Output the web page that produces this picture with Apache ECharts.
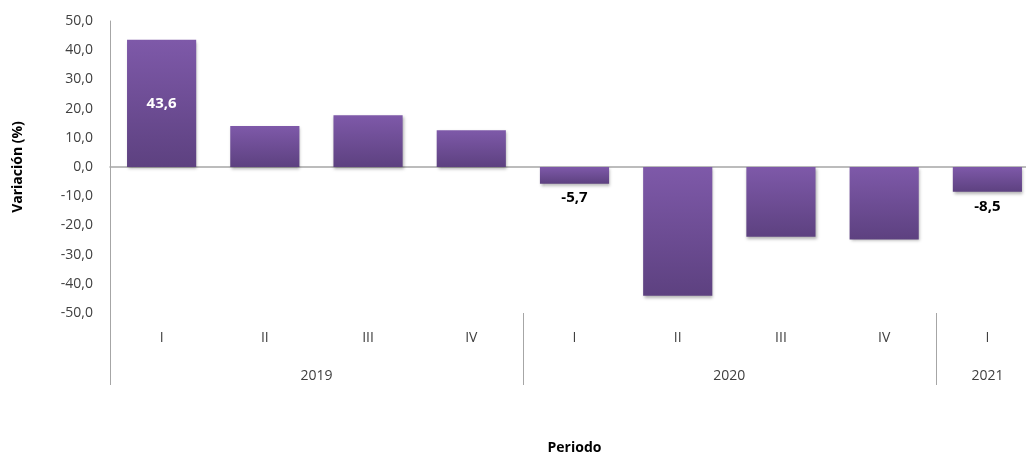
<!DOCTYPE html>
<html>
<head>
<meta charset="utf-8">
<script src="https://cdn.jsdelivr.net/npm/echarts@6/dist/echarts.min.js"></script>
<style>html,body{margin:0;padding:0;background:#fff}#c{width:1026px;height:454px}</style>
</head>
<body>
<div id="c"></div>
<script>
const quarters = ['I','II','III','IV','I','II','III','IV','I'];
const years = ['2019','2020','2021'];
const yearSpans = [4,4,1];
const values = [43.6, 14.0, 17.7, 12.6, -5.7, -44.1, -23.9, -24.8, -8.5];
const labeledIdx = [0, 4, 8];
const yTicks = [-50,-40,-30,-20,-10,0,10,20,30,40,50];

const fmt = v => v.toFixed(1).replace('.', ',');
const FONT = '"Open Sans", "Noto Sans", sans-serif';

// year group centers and boundaries on a 0..N value scale
const yearCenters = [], yearBounds = [0];
let acc = 0;
yearSpans.forEach(s => { yearCenters.push(acc + s / 2); acc += s; yearBounds.push(acc); });

const data = values.map((v, i) => {
  const item = { value: v };
  if (labeledIdx.includes(i)) {
    item.label = v >= 0
      ? { show: true, position: 'inside', color: '#fff', fontWeight: 'bold', fontSize: 15, fontFamily: FONT, formatter: p => fmt(p.value) }
      : { show: true, position: 'bottom', distance: 7, color: '#000', fontWeight: 'bold', fontSize: 15, fontFamily: FONT, formatter: p => fmt(p.value) };
  }
  return item;
});

const chart = echarts.init(document.getElementById('c'));
chart.setOption({
  animation: false,
  grid: { left: 110, right: -13, top: 21, bottom: 141, outerBoundsMode: 'none', containLabel: false },
  xAxis: [
    {
      type: 'category', data: quarters, position: 'bottom',
      axisLine: { show: false, onZero: false }, axisTick: { show: false },
      axisLabel: { color: '#404040', fontSize: 14, fontFamily: FONT, margin: 18 }
    },
    {
      type: 'value', min: 0, max: acc, position: 'bottom',
      splitLine: { show: false },
      axisLine: { show: false, onZero: false },
      axisTick: { show: true, customValues: yearBounds.slice(0, -1), length: 72, lineStyle: { color: '#a6a6a6', width: 1 } },
      axisLabel: { customValues: yearCenters, margin: 56, color: '#404040', fontSize: 14, fontFamily: FONT,
        formatter: v => years[yearCenters.indexOf(v)] },
      name: 'Periodo', nameLocation: 'middle', nameGap: 128,
      nameTextStyle: { fontWeight: 'bold', fontSize: 14, color: '#000', fontFamily: FONT }
    },
    {
      type: 'category', data: quarters,
      axisLine: { show: true, onZero: true, lineStyle: { color: '#a6a6a6', width: 1.5 } },
      axisTick: { show: false }, axisLabel: { show: false }
    }
  ],
  yAxis: {
    type: 'value', min: yTicks[0], max: yTicks[yTicks.length - 1], interval: 10,
    splitLine: { show: false },
    axisLine: { show: true, lineStyle: { color: '#a6a6a6', width: 1 } },
    axisTick: { show: false },
    axisLabel: { formatter: v => fmt(v), color: '#404040', fontSize: 14, fontFamily: FONT, margin: 17 },
    name: 'Variación (%)', nameLocation: 'middle', nameGap: 85,
    nameTextStyle: { fontWeight: 'bold', fontSize: 14, color: '#000', fontFamily: FONT }
  },
  series: [{
    type: 'bar', xAxisIndex: 0, data: data, barWidth: '67%',
    itemStyle: {
      color: new echarts.graphic.LinearGradient(0, 0, 0, 1, [
        { offset: 0, color: '#7e59a9' }, { offset: 1, color: '#5d4180' }
      ]),
      shadowColor: 'rgba(0,0,0,0.3)', shadowBlur: 3, shadowOffsetX: 1, shadowOffsetY: 2
    }
  }]
});
</script>
</body>
</html>
